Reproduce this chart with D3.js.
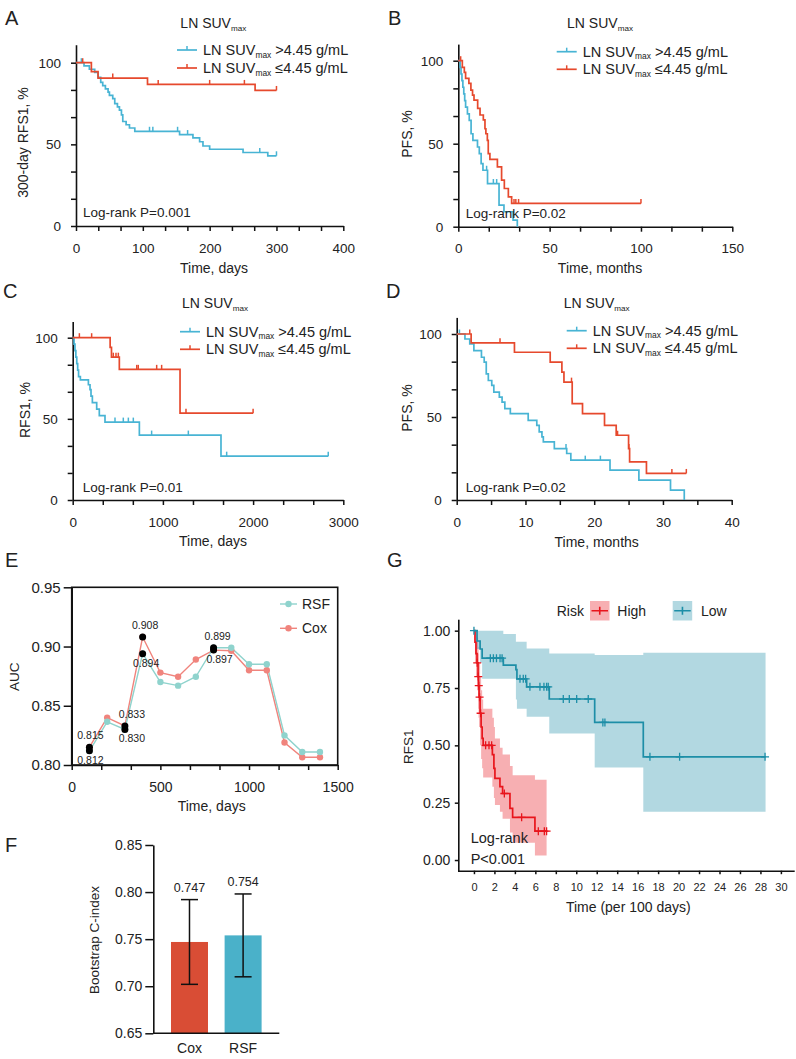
<!DOCTYPE html>
<html><head><meta charset="utf-8">
<script src="https://cdn.jsdelivr.net/npm/d3@7"></script>
<style>
body{margin:0;background:#fff;}
svg{font-family:"Liberation Sans", Arial, Helvetica, sans-serif;}
text{fill:#222;}
</style></head><body>
<svg id="fig" width="796" height="1059"></svg>
<script>
// ================= DATA =================
const legendSuffix = [">4.45 g/mL", "≤4.45 g/mL"];

// Panel A  (300-day RFS1, days)
const aHighT = [0, 12, 20, 28, 33, 37, 40, 44, 48, 50, 55, 58, 62, 65, 68, 70, 75, 80, 88, 155, 175, 185, 190, 200, 250, 287, 300];
const aHighS = [100, 98, 96, 94, 91, 88, 86, 84, 82, 80, 78, 75, 73, 71, 68, 64, 62, 60, 58, 56, 54, 51.6, 49, 47, 45, 43, 43];
const aHighC = [8, 110, 115, 152, 167, 275, 300];
const aLowT = [0, 23, 33, 107, 268, 300];
const aLowS = [100, 94.5, 90.6, 86.7, 83, 83];
const aLowC = [10, 55, 123, 200, 252, 300];

// Panel B  (PFS, months)
const bHighT = [0, 1, 1.5, 2, 2.5, 3, 3.5, 4, 5, 6, 7, 8, 10.5, 11.5, 12.5, 13.5, 16, 22.3, 25, 30, 32.3];
const bHighS = [100, 96, 92, 88, 84, 80, 76, 72, 68, 64, 56, 52, 48, 44, 38, 34, 26, 13, 9, 4, 0];
const bHighC = [15.5, 19.2, 21];
const bLowT = [0, 2.2, 3.3, 4.0, 5.8, 6.9, 7.8, 8.6, 10.6, 11.9, 13.7, 14.6, 15.1, 15.9, 16.4, 17.3, 21.4, 23.7, 25.2, 27.4, 29.2, 100];
const bLowS = [100, 96, 93, 89.4, 86.3, 82.3, 79.3, 76.3, 71.3, 67.3, 64.3, 59, 56, 52, 44, 40.6, 36, 28, 23, 18, 14, 14];
const bLowC = [1.3, 30.5, 31.5, 33, 100];

// Panel C  (RFS1, days)
const cHighT = [0, 15, 25, 35, 45, 55, 65, 85, 174, 192, 203, 218, 266, 295, 358, 739, 1644, 2833];
const cHighS = [100, 96, 92, 88, 84, 80, 76, 74, 71, 68, 64, 60, 56, 52, 48, 40, 27, 27];
const cHighC = [469, 561, 617, 672, 875, 1282, 1707, 2833];
const cLowT = [0, 415, 430, 517, 1190, 2000];
const cLowS = [100, 94, 88, 80.5, 53.5, 53.5];
const cLowC = [74, 210, 450, 480, 506, 710, 727, 931, 986, 1256, 2000];

// Panel D  (PFS, months)
const dHighT = [0, 1.2, 1.9, 2.5, 3.6, 4.0, 4.3, 4.6, 5.1, 5.4, 6.2, 6.6, 7.0, 7.8, 10.4, 11.65, 12.0, 12.4, 12.6, 14.2, 16.0, 16.6, 22.3, 26.5, 31.1, 33.1];
const dHighS = [100, 97, 94, 90, 86, 83, 76, 72, 69, 65, 62, 59, 55, 52, 48, 45, 41, 38, 35, 31, 28, 24, 18, 12, 6, 0];
const dHighC = [0.4, 15.9, 18.7, 20.9];
const dLowT = [0, 2.1, 8.4, 13.6, 15.3, 15.6, 16.8, 18.3, 21.5, 23.2, 25.0, 25.15, 27.6, 33.4];
const dLowS = [100, 94.7, 89, 83, 77, 71, 58, 52, 45, 39, 31, 23, 16, 16];
const dLowC = [1.9, 6.3, 16.7, 23.4, 25.05, 31.3, 33.4];

// Panel E  (time-dependent AUC)
const eTimes = [100, 200, 300, 400, 500, 600, 700, 800, 900, 1000, 1100, 1200, 1300, 1400];
const eCox = [0.815, 0.840, 0.833, 0.908, 0.878, 0.8745, 0.889, 0.897, 0.8965, 0.880, 0.880, 0.819, 0.8065, 0.8065];
const eRSF = [0.812, 0.8365, 0.830, 0.894, 0.870, 0.867, 0.8745, 0.899, 0.899, 0.885, 0.885, 0.825, 0.811, 0.811];
const eHighlight = [0, 2, 3, 7];
const eModels = ["RSF", "Cox"];

// Panel F  (bootstrap C-index)
const fModels = ["Cox", "RSF"];
const fValues = [0.747, 0.754];
const fLower = [0.702, 0.710];
const fUpper = [0.792, 0.798];

// Panel G  (risk groups, time per 100 days)
const gLowT  = [0, 0.3, 0.6, 0.8, 2.87, 4.1, 4.2, 5.15, 7.36, 11.8, 16.55, 28.5];
const gLowS  = [1, 0.955, 0.92, 0.88, 0.85, 0.83, 0.79, 0.755, 0.702, 0.60, 0.45, 0.45];
const gLowLo = [1, 0.92, 0.86, 0.79, 0.79, 0.70, 0.66, 0.625, 0.552, 0.403, 0.21, 0.21];
const gLowHi = [1, 1, 1, 1, 0.985, 0.952, 0.952, 0.922, 0.90, 0.894, 0.904, 0.904];
const gLowC  = [0, 1.6, 1.9, 2.2, 2.55, 2.75, 4.5, 4.82, 5.05, 5.47, 6.45, 6.84, 7.1, 7.26, 8.73, 9.32, 10.04, 11.17, 12.6, 12.8, 17.2, 20.1, 28.45];
const gHighT  = [0, 0.1, 0.2, 0.3, 0.4, 0.45, 0.5, 0.6, 0.7, 0.8, 0.9, 1.8, 1.95, 2.05, 2.54, 2.8, 3.52, 3.78, 5.96, 7.1];
const gHighS  = [1, 0.95, 0.90, 0.86, 0.80, 0.76, 0.71, 0.64, 0.58, 0.53, 0.50, 0.46, 0.40, 0.356, 0.32, 0.29, 0.225, 0.186, 0.126, 0.126];
const gHighLo = [1, 0.86, 0.80, 0.74, 0.66, 0.62, 0.58, 0.50, 0.44, 0.40, 0.36, 0.32, 0.27, 0.24, 0.21, 0.18, 0.12, 0.075, 0.02, 0.02];
const gHighHi = [1, 1, 1, 0.97, 0.93, 0.90, 0.86, 0.80, 0.74, 0.70, 0.66, 0.62, 0.58, 0.53, 0.49, 0.46, 0.41, 0.37, 0.35, 0.35];
const gHighC  = [0.32, 0.42, 0.47, 0.55, 0.65, 1.14, 1.47, 1.73, 2.97, 4.66, 6.29, 6.88, 7.1];
const gXTicks = d3.range(0, 31, 2);
const gYTicks = [0, 0.25, 0.5, 0.75, 1];

// ================= DRAWING =================
const FONT = '"Liberation Sans", Arial, Helvetica, sans-serif';
const BLUE = '#48b4d4', RED = '#e6492d';
const svg = d3.select('#fig');

function stepVal(T, S, t) { let v = S[0]; for (let i = 0; i < T.length; i++) if (T[i] <= t + 1e-9) v = S[i]; return v; }

function styleAxis(ax, fs, sw) {
  ax.attr('font-family', FONT);
  ax.select('.domain').attr('stroke', '#111').attr('stroke-width', sw || 1.6);
  ax.selectAll('.tick line').attr('stroke', '#111').attr('stroke-width', sw || 1.5);
  ax.selectAll('.tick text').attr('font-size', fs).attr('fill', '#222');
}

function txt(x, y, s, fs, anchor) {
  return svg.append('text').attr('x', x).attr('y', y).attr('font-size', fs)
    .attr('text-anchor', anchor || 'start').text(s);
}
function vtxt(cx, cy, s, fs) {
  return svg.append('text').attr('transform', `translate(${cx},${cy}) rotate(-90)`)
    .attr('text-anchor', 'middle').attr('dy', '0.35em').attr('font-size', fs).text(s);
}
function suvText(x, y, suffix, fs, anchor) {
  const t = svg.append('text').attr('x', x).attr('y', y).attr('font-size', fs).attr('text-anchor', anchor || 'start');
  t.append('tspan').text('LN SUV');
  t.append('tspan').attr('font-size', fs * 0.58).attr('dy', fs * 0.18).text('max');
  if (suffix) t.append('tspan').attr('font-size', fs).attr('dy', -fs * 0.18).text(' ' + suffix);
  return t;
}

function kmPanel(c) {
  const g = svg.append('g');
  const y = d3.scaleLinear().domain([0, 100]).range([c.y0, c.y100]);
  const yAxScale = d3.scaleLinear().domain([0, c.yTop]).range([c.y0, y(c.yTop)]);
  const x = d3.scaleLinear().domain([0, c.xMax]).range([c.x0, c.x1]);
  const yTicks = d3.range(7).map(i => i * 100 / 6);
  const xTicks = d3.range(c.xN + 1).map(i => i * c.xMax / c.xN);
  const ya = g.append('g').attr('transform', `translate(${c.x0},0)`)
    .call(d3.axisLeft(yAxScale).tickValues(yTicks).tickSize(5).tickSizeOuter(0).tickPadding(10)
      .tickFormat((d, i) => i % 3 === 0 ? d3.format('d')(Math.round(d)) : ''));
  const xa = g.append('g').attr('transform', `translate(0,${c.y0})`)
    .call(d3.axisBottom(x).tickValues(xTicks).tickSize(5).tickSizeOuter(0).tickPadding(12)
      .tickFormat((d, i) => i % c.xEvery === 0 ? d3.format('d')(Math.round(d)) : ''));
  styleAxis(ya, 13.5); styleAxis(xa, 13.5);

  const line = d3.line().x(d => x(d[0])).y(d => y(d[1])).curve(d3.curveStepAfter);
  c.series.forEach(s => {
    const pts = s.T.map((t, i) => [t, s.S[i]]);
    g.append('path').attr('d', line(pts)).attr('fill', 'none').attr('stroke', s.color).attr('stroke-width', 1.7);
    s.C.forEach(ct => {
      const v = stepVal(s.T, s.S, ct);
      g.append('line').attr('x1', x(ct)).attr('x2', x(ct)).attr('y1', y(v)).attr('y2', y(v) - 4.5)
        .attr('stroke', s.color).attr('stroke-width', 1.5);
    });
  });
  // title
  suvText(c.titleX, c.titleY, null, 14, 'middle');
  // legend
  c.series.forEach((s, i) => {
    const ly = c.legY[i];
    svg.append('line').attr('x1', c.legX).attr('x2', c.legX + 20).attr('y1', ly).attr('y2', ly)
      .attr('stroke', s.color).attr('stroke-width', 1.7);
    svg.append('line').attr('x1', c.legX + 10).attr('x2', c.legX + 10).attr('y1', ly).attr('y2', ly - 4)
      .attr('stroke', s.color).attr('stroke-width', 1.5);
    suvText(c.legX + 26, ly + 5, legendSuffix[i], 14.5);
  });
  txt(c.lrX, c.lrY, c.lr, 13.5);
  txt(c.xtX, c.xtY, c.xTitle, 14, 'middle');
  vtxt(c.ytX, c.ytY, c.yTitle, 14);
  txt(c.letX, c.letY, c.letter, 20);
}

kmPanel({letter: 'A', letX: 5, letY: 25, x0: 76, x1: 343.3, xMax: 400, xN: 12, xEvery: 3,
  y0: 226, y100: 62.7, yTop: 111, titleX: 213.3, titleY: 28, legX: 177, legY: [50, 68],
  lr: 'Log-rank P=0.001', lrX: 83, lrY: 217, xTitle: 'Time, days', xtX: 214, xtY: 273,
  yTitle: '300-day RFS1, %', ytX: 23, ytY: 142.5,
  series: [{T: aHighT, S: aHighS, C: aHighC, color: BLUE}, {T: aLowT, S: aLowS, C: aLowC, color: RED}]});

kmPanel({letter: 'B', letX: 388, letY: 25, x0: 458.3, x1: 732.3, xMax: 150, xN: 9, xEvery: 3,
  y0: 226.7, y100: 60.7, yTop: 110, titleX: 600, titleY: 28, legX: 556.7, legY: [51.7, 69.3],
  lr: 'Log-rank P=0.02', lrX: 465.7, lrY: 218.3, xTitle: 'Time, months', xtX: 600, xtY: 273,
  yTitle: 'PFS, %', ytX: 407, ytY: 134,
  series: [{T: bHighT, S: bHighS, C: bHighC, color: BLUE}, {T: bLowT, S: bLowS, C: bLowC, color: RED}]});

kmPanel({letter: 'C', letX: 3, letY: 298, x0: 72.7, x1: 343.3, xMax: 3000, xN: 9, xEvery: 3,
  y0: 500, y100: 337.7, yTop: 110, titleX: 215, titleY: 308, legX: 180, legY: [331.7, 349.3],
  lr: 'Log-rank P=0.01', lrX: 82.7, lrY: 492.3, xTitle: 'Time, days', xtX: 213, xtY: 546,
  yTitle: 'RFS1, %', ytX: 25, ytY: 410,
  series: [{T: cHighT, S: cHighS, C: cHighC, color: BLUE}, {T: cLowT, S: cLowS, C: cLowC, color: RED}]});

kmPanel({letter: 'D', letX: 386, letY: 298, x0: 456.7, x1: 731.7, xMax: 40, xN: 8, xEvery: 2,
  y0: 500, y100: 334, yTop: 110, titleX: 596.7, titleY: 308, legX: 566.7, legY: [330.7, 348.3],
  lr: 'Log-rank P=0.02', lrX: 465.7, lrY: 491.7, xTitle: 'Time, months', xtX: 596.7, xtY: 547,
  yTitle: 'PFS, %', ytX: 407, ytY: 408,
  series: [{T: dHighT, S: dHighS, C: dHighC, color: BLUE}, {T: dLowT, S: dLowS, C: dLowC, color: RED}]});

// ---------- Panel E ----------
(function () {
  const TEAL = '#8fd3cd', SALMON = '#f0847d';
  const x = d3.scaleLinear().domain([0, 1500]).range([71.7, 337.7]);
  const y = d3.scaleLinear().domain([0.80, 0.95]).range([765, 587.3]);
  const g = svg.append('g');
  const ya = g.append('g').attr('transform', 'translate(71.7,0)')
    .call(d3.axisLeft(y).tickValues([0.80, 0.85, 0.90, 0.95]).tickFormat(d3.format('.2f')).tickSize(8).tickSizeOuter(0).tickPadding(3));
  const xa = g.append('g').attr('transform', 'translate(0,765)')
    .call(d3.axisBottom(x).tickValues(d3.range(10).map(i => i * 500 / 3)).tickSize(5).tickSizeOuter(0).tickPadding(12)
      .tickFormat((d, i) => i % 3 === 0 ? d3.format('d')(Math.round(d)) : ''));
  styleAxis(ya, 15); styleAxis(xa, 14);
  g.append('rect').attr('x', 71.7).attr('y', 587.3).attr('width', 266).attr('height', 177.7)
    .attr('fill', 'none').attr('stroke', '#111').attr('stroke-width', 1.6);

  const series = [{v: eCox, color: SALMON}, {v: eRSF, color: TEAL}];
  const line = d3.line().x((d, i) => x(eTimes[i])).y(d => y(d));
  series.forEach(s => {
    g.append('path').attr('d', line(s.v)).attr('fill', 'none').attr('stroke', s.color).attr('stroke-width', 1.4);
  });
  series.forEach(s => {
    g.selectAll(null).data(s.v).enter().append('circle')
      .attr('cx', (d, i) => x(eTimes[i])).attr('cy', d => y(d)).attr('r', 3.2).attr('fill', s.color);
  });
  const upDx = {0: 1, 2: 7, 3: 2.5, 7: 4}, loDx = {0: 1, 2: 7, 3: 3.5, 7: 6};
  eHighlight.forEach(i => {
    const hi = Math.max(eCox[i], eRSF[i]), lo = Math.min(eCox[i], eRSF[i]);
    [hi, lo].forEach(v => g.append('circle').attr('cx', x(eTimes[i])).attr('cy', y(v)).attr('r', 3.5).attr('fill', '#000'));
    txt(x(eTimes[i]) + upDx[i], y(hi) - 8, d3.format('.3f')(hi), 10.5, 'middle');
    txt(x(eTimes[i]) + loDx[i], y(lo) + 13, d3.format('.3f')(lo), 10.5, 'middle');
  });
  // legend
  const legCol = {RSF: TEAL, Cox: SALMON};
  eModels.forEach((m, i) => {
    const ly = [604, 628.3][i];
    svg.append('line').attr('x1', 280).attr('x2', 297).attr('y1', ly).attr('y2', ly).attr('stroke', legCol[m]).attr('stroke-width', 1.4);
    svg.append('circle').attr('cx', 288.5).attr('cy', ly).attr('r', 3.2).attr('fill', legCol[m]);
    txt(302, ly + 5, m, 14);
  });
  vtxt(13.8, 676.7, 'AUC', 13.5);
  txt(211.7, 811, 'Time, days', 14, 'middle');
  txt(5, 567, 'E', 20);
})();

// ---------- Panel F ----------
(function () {
  const COLS = ['#d94d35', '#4ab1c9'];
  const y = d3.scaleLinear().domain([0.65, 0.85]).range([1033.3, 845]);
  const x = d3.scaleBand().domain(fModels).range([153.3, 279.3]).paddingInner(0.31).paddingOuter(0.33);
  const g = svg.append('g');
  g.selectAll('rect.bar').data(fValues).enter().append('rect')
    .attr('x', (d, i) => x(fModels[i])).attr('width', x.bandwidth())
    .attr('y', d => y(d)).attr('height', d => y(0.65) - y(d)).attr('fill', (d, i) => COLS[i]);
  fValues.forEach((v, i) => {
    const cx = x(fModels[i]) + x.bandwidth() / 2;
    g.append('line').attr('x1', cx).attr('x2', cx).attr('y1', y(fLower[i])).attr('y2', y(fUpper[i])).attr('stroke', '#111').attr('stroke-width', 1.5);
    [fLower[i], fUpper[i]].forEach(e => g.append('line').attr('x1', cx - 8.5).attr('x2', cx + 8.5).attr('y1', y(e)).attr('y2', y(e)).attr('stroke', '#111').attr('stroke-width', 1.5));
    txt(cx, y(fUpper[i]) - 8, d3.format('.3f')(v), 12.5, 'middle');
  });
  const ya = g.append('g').attr('transform', 'translate(153.3,0)')
    .call(d3.axisLeft(y).tickValues([0.65, 0.70, 0.75, 0.80, 0.85]).tickFormat(d3.format('.2f')).tickSize(8).tickSizeOuter(0).tickPadding(3));
  const xa = g.append('g').attr('transform', 'translate(0,1033.3)')
    .call(d3.axisBottom(x).tickSize(0).tickSizeOuter(0).tickPadding(10));
  styleAxis(ya, 14); styleAxis(xa, 14);
  xa.select('.domain').attr('d', 'M0,0H126').attr('transform', 'translate(153.3,0)');
  vtxt(94.3, 940, 'Bootstrap C-index', 13.5);
  txt(5, 852, 'F', 20);
})();

// ---------- Panel G ----------
(function () {
  const LOWC = '#1d8ea7', HIGHC = '#e8151c';
  const x = d3.scaleLinear().domain([-1.53, 31.3]).range([458.3, 794.2]);
  const y = d3.scaleLinear().domain([-0.05, 1.05]).range([871.5, 619.2]);
  const g = svg.append('g');
  const area = d3.area().x(d => x(d.t)).y0(d => y(d.lo)).y1(d => y(d.hi)).curve(d3.curveStepAfter);
  const line = d3.line().x(d => x(d.t)).y(d => y(d.s)).curve(d3.curveStepAfter);
  const groups = [
    {T: gHighT, S: gHighS, Lo: gHighLo, Hi: gHighHi, C: gHighC, color: HIGHC},
    {T: gLowT, S: gLowS, Lo: gLowLo, Hi: gLowHi, C: gLowC, color: LOWC}
  ];
  groups.forEach(gr => {
    const d = gr.T.map((t, i) => ({t, s: gr.S[i], lo: gr.Lo[i], hi: gr.Hi[i]}));
    g.append('path').attr('d', area(d)).attr('fill', gr.color).attr('fill-opacity', 0.34);
  });
  groups.forEach(gr => {
    const d = gr.T.map((t, i) => ({t, s: gr.S[i]}));
    g.append('path').attr('d', line(d)).attr('fill', 'none').attr('stroke', gr.color).attr('stroke-width', 1.7);
    gr.C.forEach(ct => {
      const v = stepVal(gr.T, gr.S, ct), px = x(ct), py = y(v);
      g.append('path').attr('d', `M${px - 4},${py}H${px + 4}M${px},${py - 4}V${py + 4}`)
        .attr('stroke', gr.color).attr('stroke-width', 1.3).attr('fill', 'none');
    });
  });
  const ya = g.append('g').attr('transform', 'translate(458.3,0)')
    .call(d3.axisLeft(y).tickValues(gYTicks).tickFormat(d3.format('.2f')).tickSize(3.5).tickSizeOuter(0).tickPadding(4.5));
  const xa = g.append('g').attr('transform', 'translate(0,870.7)')
    .call(d3.axisBottom(x).tickValues(gXTicks).tickSize(3.5).tickSizeOuter(0).tickPadding(9));
  styleAxis(ya, 14); styleAxis(xa, 11);
  // legend
  txt(556.7, 616, 'Risk', 14);
  [[590, HIGHC, 'High', 617.3], [672.7, LOWC, 'Low', 701]].forEach(([lx, col, lab, tx]) => {
    svg.append('rect').attr('x', lx).attr('y', 601).attr('width', 19.5).attr('height', 19.5).attr('fill', col).attr('fill-opacity', 0.34);
    svg.append('path').attr('d', `M${lx + 1.5},610.7H${lx + 18}M${lx + 9.75},606.7V614.7`).attr('stroke', col).attr('stroke-width', 1.6);
    txt(tx, 616, lab, 14);
  });
  txt(470.7, 843.3, 'Log-rank', 14.5);
  txt(470.7, 864, 'P<0.001', 14.5);
  vtxt(408.3, 746.7, 'RFS1', 13.5);
  txt(628.3, 911.7, 'Time (per 100 days)', 14, 'middle');
  txt(387, 567, 'G', 20);
})();
</script></body></html>
